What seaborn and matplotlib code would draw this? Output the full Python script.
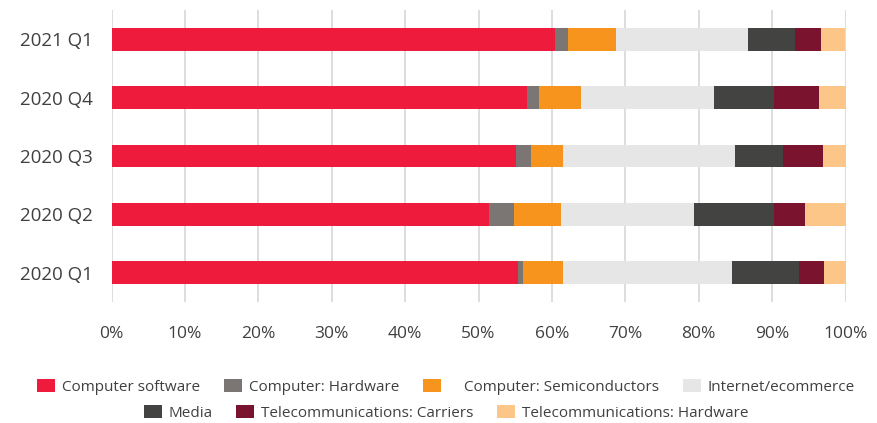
import matplotlib
matplotlib.use("Agg")
import matplotlib.pyplot as plt
from matplotlib.patches import Patch
import numpy as np
import pandas as pd
import seaborn as sns

# Quarterly share (%) of deal value by sector
quarters = ["2021 Q1", "2020 Q4", "2020 Q3", "2020 Q2", "2020 Q1"]
computer_software = [60.4, 56.6, 55.1, 51.4, 55.4]
computer_hardware = [1.8, 1.6, 2.1, 3.5, 0.7]
computer_semis = [6.6, 5.7, 4.3, 6.3, 5.4]
internet_ecommerce = [17.9, 18.2, 23.4, 18.1, 23.0]
media = [6.4, 8.1, 6.6, 10.9, 9.2]
telecom_carriers = [3.6, 6.2, 5.4, 4.3, 3.4]
telecom_hardware = [3.3, 3.6, 3.1, 5.5, 2.9]

series_names = [
    "Computer software",
    "Computer: Hardware",
    "    Computer: Semiconductors",
    "Internet/ecommerce",
    "Media",
    "Telecommunications: Carriers",
    "Telecommunications: Hardware",
]
series_values = [
    computer_software, computer_hardware, computer_semis, internet_ecommerce,
    media, telecom_carriers, telecom_hardware,
]
colors = ["#EE1B3C", "#7B7573", "#F7941E", "#E6E6E6", "#434341", "#7A142E", "#FCC689"]

TEXT = "#404040"

sns.set_theme(style="white")
plt.rcParams["font.family"] = ["Open Sans", "DejaVu Sans"]

fig = plt.figure(figsize=(8.78, 4.23), dpi=100)
W, H = 878, 423
ax = fig.add_axes([111.5 / W, (H - 302) / H, 734 / W, 292 / H])

# Stacked bars: draw running totals from the outermost segment inwards
vals = np.array(series_values)
cum = np.cumsum(vals, axis=0)
for i in range(len(series_names) - 1, -1, -1):
    df = pd.DataFrame({"quarter": quarters, "total": cum[i]})
    sns.barplot(data=df, x="total", y="quarter", order=quarters, orient="h",
                color=colors[i], saturation=1, width=0.39, errorbar=None,
                linewidth=0, ax=ax)

ax.set_xlim(0, 100)
ax.set_ylim(4.5, -0.5)
ax.set_xticks(np.arange(0, 101, 10))
ax.set_xticklabels([f"{v}%" for v in range(0, 101, 10)])
ax.set_xlabel("")
ax.set_ylabel("")
for s in ax.spines.values():
    s.set_visible(False)
ax.set_axisbelow(True)
ax.xaxis.grid(True, color="#DADADA", linewidth=1.3)
ax.yaxis.grid(False)
ax.tick_params(axis="x", length=0, pad=17, labelsize=12.5, labelcolor=TEXT)
ax.tick_params(axis="y", length=0, pad=13.5, labelsize=13.5, labelcolor=TEXT)

handles = [Patch(facecolor=c, edgecolor="none") for c in colors]
leg_kw = dict(frameon=False, fontsize=11.0, handlelength=1.18, handleheight=0.98,
              handletextpad=0.43, columnspacing=1.57, borderpad=0, borderaxespad=0,
              labelcolor=TEXT, loc="center")
fig.legend(handles[:4], series_names[:4], ncol=4,
           bbox_to_anchor=(446 / W, 1 - 387 / H), **leg_kw)
fig.legend(handles[4:], series_names[4:], ncol=3,
           bbox_to_anchor=(446 / W, 1 - 413 / H), **leg_kw)

fig.savefig("out.png", dpi=100)
